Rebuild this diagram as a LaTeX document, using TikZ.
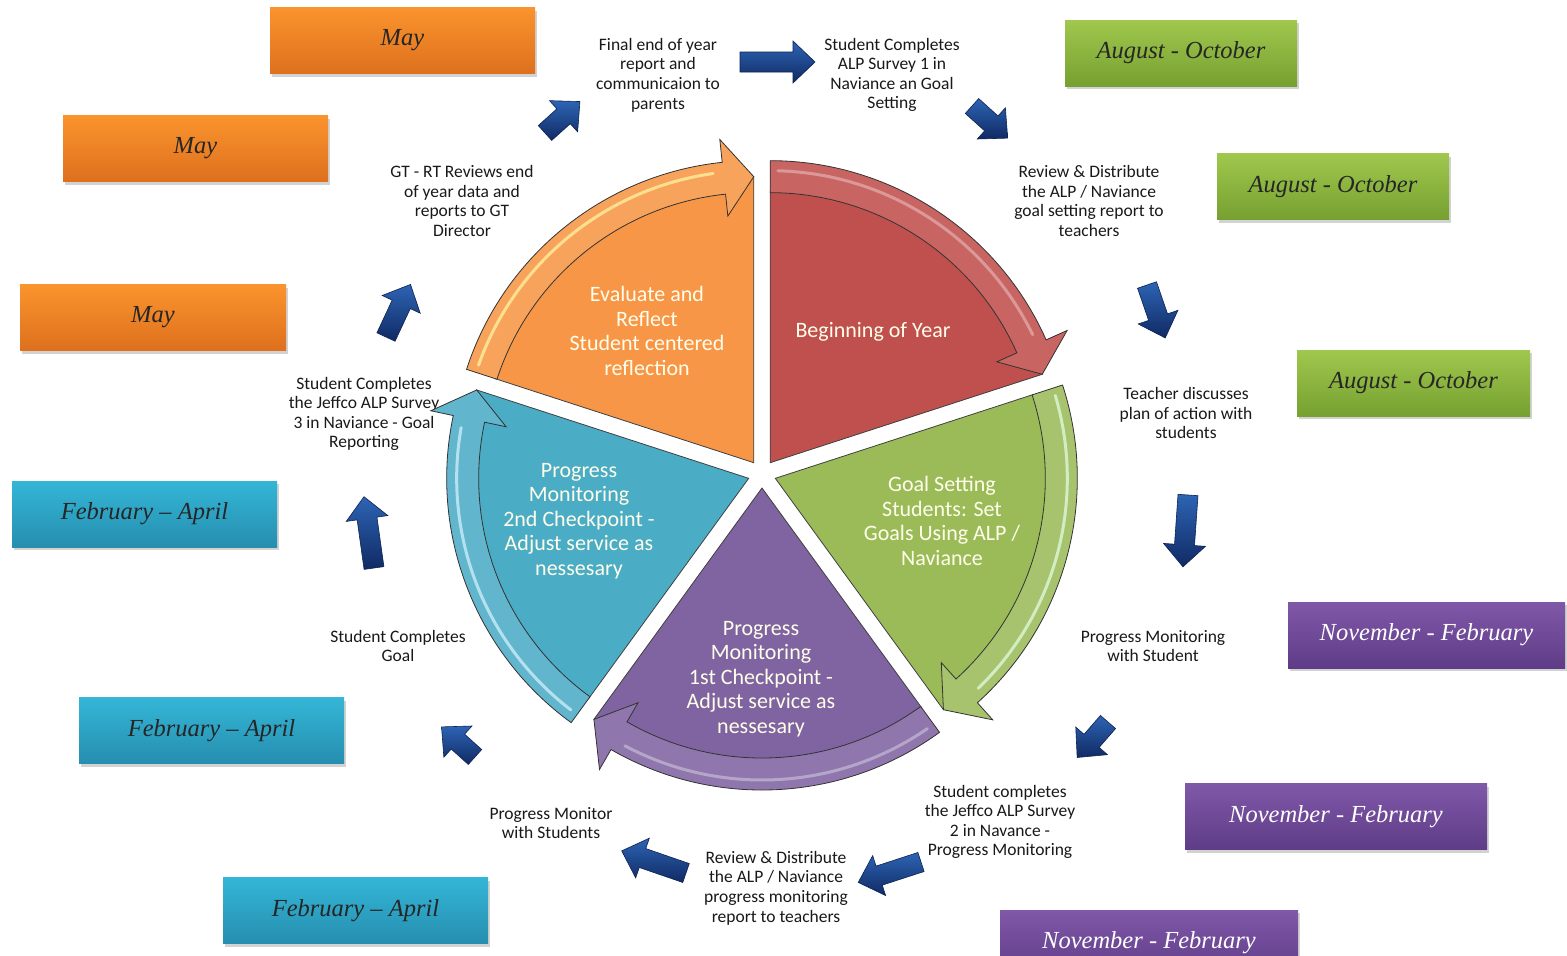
\documentclass[tikz,border=0pt]{standalone}
\usepackage{fontspec}
\setmainfont{Carlito}
\newfontfamily\datefont{Liberation Serif}
\usetikzlibrary{shadows}
\definecolor{wred}{RGB}{192,80,77}
\definecolor{worange}{RGB}{247,150,70}
\definecolor{wgreen}{RGB}{155,187,89}
\definecolor{wpurple}{RGB}{128,100,162}
\definecolor{wteal}{RGB}{75,172,198}
\definecolor{boxorangeT}{RGB}{250,148,45}
\definecolor{boxorangeB}{RGB}{222,112,30}
\definecolor{boxgreenT}{RGB}{160,200,78}
\definecolor{boxgreenB}{RGB}{118,160,48}
\definecolor{boxtealT}{RGB}{52,182,215}
\definecolor{boxtealB}{RGB}{38,142,175}
\definecolor{boxpurpleT}{RGB}{128,88,168}
\definecolor{boxpurpleB}{RGB}{94,60,135}
\definecolor{arrdark}{RGB}{16,42,100}
\definecolor{arrlight}{RGB}{45,100,180}
\newcommand{\pieslice}[3]{%
\begin{scope}[shift={(762,474)}, shift={(#1+36:14)}]
 \filldraw[fill=#2, draw=black!75, line width=0.8pt] (0,0) -- (#1:272) arc[start angle=#1, end angle=#1+66, radius=272] -- (#1+72:286) -- cycle;
 \filldraw[fill=#2!88!white, draw=black!80, line width=0.8pt] (#1:270) -- (#1:302) arc[start angle=#1, end angle=#1+66, radius=302] -- (#1+66:325) -- (#1+72:286) -- (#1+66:248) -- (#1+66:270) arc[start angle=#1+66, end angle=#1, radius=270] -- cycle;
 \draw[#3, line width=3pt, opacity=0.7, line cap=round] (#1+1.5:292) arc[start angle=#1+1.5, end angle=#1+64, radius=292];
\end{scope}}
\newcommand{\bluearr}[4]{%
\begin{scope}[shift={(#1,#2)}, rotate=-#3]
 \shade[top color=arrlight, bottom color=arrdark, draw=arrdark!80!black, line width=0.6pt] (0,-10) -- (#4-22,-10) -- (#4-22,-21) -- (#4,0) -- (#4-22,21) -- (#4-22,10) -- (0,10) -- cycle;
\end{scope}}
\tikzset{
 lbl/.style={align=center, font=\fontsize{17.5}{19.6}\selectfont, text=black!90, inner sep=0pt},
 wtxt/.style={align=center, font=\fontsize{22}{24.5}\selectfont, text=white!92!yellow, inner sep=0pt},
 datebox/.style={minimum height=66pt, inner sep=0pt, font=\datefont\itshape\fontsize{24.5}{28}\selectfont, drop shadow={shadow xshift=1.5pt, shadow yshift=-3pt, opacity=0.35, fill=black!50}},
 obox/.style={datebox, top color=boxorangeT, bottom color=boxorangeB, text=black!85},
 gbox/.style={datebox, top color=boxgreenT, bottom color=boxgreenB, text=black!85},
 tbox/.style={datebox, top color=boxtealT, bottom color=boxtealB, text=black!85},
 pbox/.style={datebox, top color=boxpurpleT, bottom color=boxpurpleB, text=white},
}
\begin{document}
\begin{tikzpicture}[x=1pt,y=-1pt]
\clip (0,0) rectangle (1567,956);
\fill[white] (0,0) rectangle (1567,956);
% labels
\node[lbl] (l1) at (658,75) {Final end of year\\report and\\communicaion to\\parents};
\node[lbl] (l2) at (892,75) {Student Completes\\ALP Survey 1 in\\Naviance an Goal\\Setting};
\node[lbl] (l3) at (1089,201) {Review \& Distribute\\the ALP / Naviance\\goal setting report to\\teachers};
\node[lbl] (l4) at (1186,413) {Teacher discusses\\plan of action with\\students};
\node[lbl] (l5) at (1153,646) {Progress Monitoring\\with Student};
\node[lbl] (l6) at (1000,822) {Student completes\\the Jeffco ALP Survey\\2 in Navance -\\Progress Monitoring};
\node[lbl] (l7) at (776,888) {Review \& Distribute\\the ALP / Naviance\\progress monitoring\\report to teachers};
\node[lbl] (l8) at (551,823) {Progress Monitor\\with Students};
\node[lbl] (l9) at (398,646) {Student Completes\\Goal};
\node[lbl] (l10) at (364,414) {Student Completes\\the Jeffco ALP Survey\\3 in Naviance - Goal\\Reporting};
\node[lbl] (l11) at (462,201) {GT - RT Reviews end\\of year data and\\reports to GT\\Director};
% pie
\pieslice{-90}{wred}{wred!45!white}
\pieslice{-18}{wgreen}{green!10!white}
\pieslice{54}{wpurple}{wpurple!45!white}
\pieslice{198}{worange}{yellow!35!white}
\pieslice{126}{wteal}{cyan!15!white}
\node[wtxt] (w1) at (873,332) {Beginning of Year};
\node[wtxt] (w2) at (942,521) {Goal Setting\\Students: Set\\Goals Using ALP /\\Naviance};
\node[wtxt] (w3) at (761,679) {Progress\\Monitoring\\1st Checkpoint -\\Adjust service as\\nessesary};
\node[wtxt] (w4) at (579,521) {Progress\\Monitoring\\2nd Checkpoint -\\Adjust service as\\nessesary};
\node[wtxt] (w5) at (647,331) {Evaluate and\\Reflect\\Student centered\\reflection};
% blue arrows
\bluearr{740}{62}{0}{75}
\bluearr{972}{106}{42}{48}
\bluearr{1147}{285}{71}{56}
\bluearr{1188}{495}{94}{72}
\bluearr{1108}{722}{131}{47}
\bluearr{921}{862}{162}{66}
\bluearr{686}{873}{199}{68}
\bluearr{475}{757}{222}{45}
\bluearr{374}{568}{262}{72}
\bluearr{386}{337}{295}{58}
\bluearr{545}{133}{318}{47}
% date boxes
\node[obox, minimum width=265pt] (d1) at (402.5,40.5) {May};
\node[obox, minimum width=265pt] (d2) at (195.5,148.5) {May};
\node[obox, minimum width=266pt] (d3) at (153,317.5) {May};
\node[tbox, minimum width=265pt] (d4) at (144.5,514) {February – April};
\node[tbox, minimum width=265pt] (d5) at (211.5,730.5) {February – April};
\node[tbox, minimum width=265pt] (d6) at (355.5,910.5) {February – April};
\node[gbox, minimum width=232pt] (d7) at (1181,53) {August - October};
\node[gbox, minimum width=232pt] (d8) at (1333,186.5) {August - October};
\node[gbox, minimum width=233pt] (d9) at (1413.5,383) {August - October};
\node[pbox, minimum width=277pt] (d10) at (1426.5,635) {November - February};
\node[pbox, minimum width=302pt] (d11) at (1336,816.5) {November - February};
\node[pbox, minimum width=298pt] (d12) at (1149,943) {November - February};
\end{tikzpicture}
\end{document}
